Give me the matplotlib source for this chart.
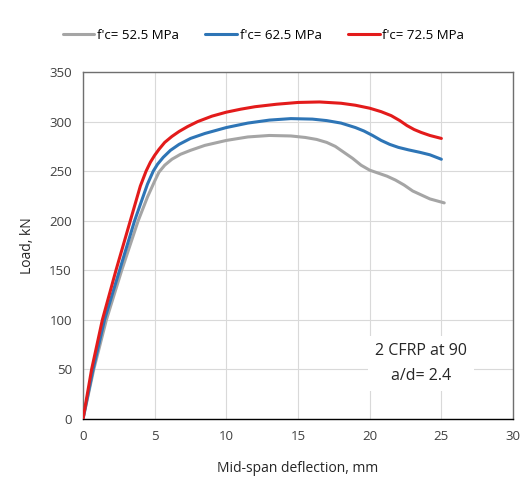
import matplotlib
matplotlib.use("Agg")
import matplotlib.pyplot as plt

plt.rcParams['font.family'] = ['Open Sans', 'DejaVu Sans']

x_525 = [0, 0.75, 1.63, 2.7, 3.85, 4.5, 5.0, 5.3, 5.7, 6.2, 6.8, 7.5, 8.5, 10, 11.5, 13,
         14.5, 15.5, 16.3, 17, 17.6, 18.2, 18.8, 19.4, 20, 20.6, 21.2, 21.8, 22.4, 23,
         23.6, 24.2, 24.7, 25.2]
y_525 = [0, 50, 100, 150, 200, 224, 240, 249, 256, 262, 267, 271, 276, 281, 284.5, 286,
         285.5, 284, 282, 279, 275, 269, 263, 256, 251, 248, 245, 241, 236, 230,
         226, 222, 220, 218]

x_625 = [0, 0.7, 1.5, 2.55, 3.6, 4.5, 4.9, 5.2, 5.6, 6.1, 6.7, 7.5, 8.5, 10, 11.5, 13,
         14.5, 16, 17, 18, 19, 19.6, 20.2, 20.8, 21.4, 22, 22.7, 23.5, 24.2, 25]
y_625 = [0, 50, 100, 150, 200, 237, 250, 257, 264, 271, 277, 283, 288, 294, 298.5, 301.5,
         303, 302.5, 301, 298.5, 294, 290.5, 286, 281, 277, 274, 271.5, 269, 266.5, 262]

x_725 = [0, 0.6, 1.35, 2.3, 3.3, 4.0, 4.4, 4.7, 5, 5.3, 5.7, 6.2, 6.7, 7.3, 8, 9, 10, 11,
         12, 13.5, 15, 16.5, 18, 19, 20, 20.8, 21.5, 22.1, 22.6, 23.1, 23.6, 24.2, 25]
y_725 = [0, 50, 100, 150, 200, 235, 250, 259, 266, 272, 279, 285, 290, 295, 300, 305.5,
         309.5, 312.5, 315, 317.5, 319.3, 319.8, 318.5, 316.5, 313.5, 310, 306, 301,
         296, 292, 289, 286, 283]

labels = ["f'c= 52.5 MPa", "f'c= 62.5 MPa", "f'c= 72.5 MPa"]
colors = ['#a5a5a5', '#2e75b6', '#e31b1b']

fig = plt.figure(figsize=(5.27, 4.84), dpi=100)
ax = fig.add_axes([0.1575, 0.1343, 0.816, 0.7169])

for xs, ys, lab, c in zip([x_525, x_625, x_725], [y_525, y_625, y_725], labels, colors):
    ax.plot(xs, ys, color=c, lw=2.2, label=lab, solid_capstyle='round',
            solid_joinstyle='round', zorder=3)

ax.set_xlim(0, 30)
ax.set_ylim(0, 350)
ax.set_xticks(range(0, 31, 5))
ax.set_yticks(range(0, 351, 50))
ax.grid(True, color='#d9d9d9', lw=0.8, zorder=0)
ax.tick_params(length=0, labelsize=9.5, colors='#404040', pad=8)
for s in ['top', 'right', 'left']:
    ax.spines[s].set_color('#6f6f6f')
ax.spines['bottom'].set_color('#000000')
for s in ax.spines.values():
    s.set_linewidth(1.0)

ax.set_xlabel('Mid-span deflection, mm', fontsize=10, color='#262626', labelpad=13)
ax.set_ylabel('Load, kN', fontsize=10, color='#262626', labelpad=10)

ax.text(23.6, 56, '2 CFRP at 90\na/d= 2.4', ha='center', va='center', fontsize=11.5,
        color='#262626', linespacing=1.7, zorder=4,
        bbox=dict(facecolor='white', edgecolor='none', pad=5))

fig.legend(loc='center', bbox_to_anchor=(0.5, 0.927), ncol=3, frameon=False,
           fontsize=9.5, handlelength=2.4, handletextpad=0.2, columnspacing=2.0)

fig.savefig('out.png', dpi=100)
